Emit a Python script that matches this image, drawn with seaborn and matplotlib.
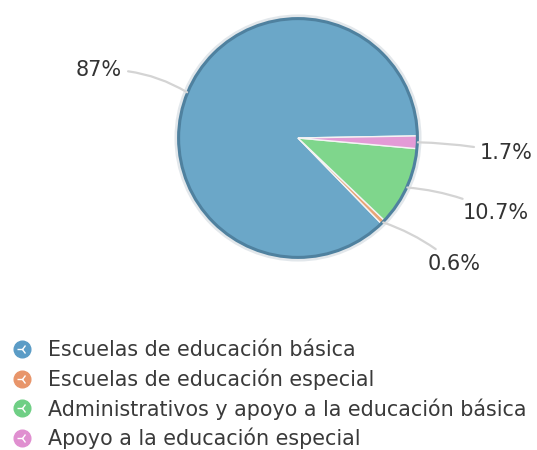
import matplotlib
matplotlib.use("Agg")
import matplotlib.pyplot as plt
import seaborn as sns
import numpy as np
from matplotlib.lines import Line2D
from matplotlib.patches import Circle

# datos del gráfico
categorias = [
    "Escuelas de educación básica",
    "Escuelas de educación especial",
    "Administrativos y apoyo a la educación básica",
    "Apoyo a la educación especial",
]
porcentajes = [87.0, 0.6, 10.7, 1.7]
etiquetas = ["87%", "0.6%", "10.7%", "1.7%"]

colores = ["#6ba7c8", "#e9a577", "#7fd68c", "#e39bd6"]
colores_leyenda = ["#5b9cc6", "#e8956a", "#6fcf85", "#e08fd0"]

sns.set_theme(style="white")
plt.rcParams['font.family'] = ['DejaVu Sans']

W, H = 537, 450
fig = plt.figure(figsize=(W / 100, H / 100), dpi=100)
fig.patch.set_facecolor("white")

# pastel: centro ~(298,138) px, radio ~120 px (con margen para el borde)
cx, cy, r, m = 298, 138, 120, 1.06
ax = fig.add_axes([(cx - r * m) / W, (H - cy - r * m) / H, 2 * r * m / W, 2 * r * m / H])
wedges, _ = ax.pie(porcentajes, colors=colores, startangle=1, counterclock=True,
                   radius=1, wedgeprops=dict(edgecolor="#f4f4f4", linewidth=1.0))
ax.add_patch(Circle((0, 0), 1.015, fill=False, edgecolor="#cfd8de", lw=2.5, alpha=0.6))
ax.add_patch(Circle((0, 0), 0.995, fill=False, edgecolor="#4f819f", lw=2.2))
ax.set_xlim(-m, m)
ax.set_ylim(-m, m)
ax.set_aspect("equal")
ax.axis("off")

# posiciones de las etiquetas (pixeles de figura)
pos_texto = [(99, 380), (428, 186), (463, 237), (480, 297)]
alineacion = ["center", "left", "left", "left"]
curvas = [-0.15, 0.1, 0.1, 0.05]

for w, txt, pos, ha, rad in zip(wedges, etiquetas, pos_texto, alineacion, curvas):
    ang = np.deg2rad((w.theta1 + w.theta2) / 2)
    ax.annotate(txt, xy=(np.cos(ang), np.sin(ang)), xycoords="data",
                xytext=pos, textcoords="figure pixels",
                ha=ha, va="center", fontsize=15, color="#333333",
                annotation_clip=False,
                arrowprops=dict(arrowstyle="-", color="#d4d4d4", lw=1.6,
                                shrinkA=2, shrinkB=0,
                                connectionstyle=f"arc3,rad={rad}"))

# leyenda
handles = []
for c in colores_leyenda:
    circulo = Line2D([], [], marker="o", ls="", ms=12, mfc=c, mec=c)
    rayos = Line2D([], [], marker="3", ls="", ms=7.5, mec="white", mew=1.0)
    handles.append((circulo, rayos))

leg = fig.legend(handles, categorias, loc="upper left",
                 bbox_to_anchor=(13 / W, 1 - 340 / H),
                 frameon=False, fontsize=14.9, handlelength=0.9,
                 handletextpad=0.8, labelspacing=0.4,
                 borderpad=0, borderaxespad=0)
for t in leg.get_texts():
    t.set_color("#3a3a3a")

fig.savefig("out.png", dpi=100, facecolor="white")
